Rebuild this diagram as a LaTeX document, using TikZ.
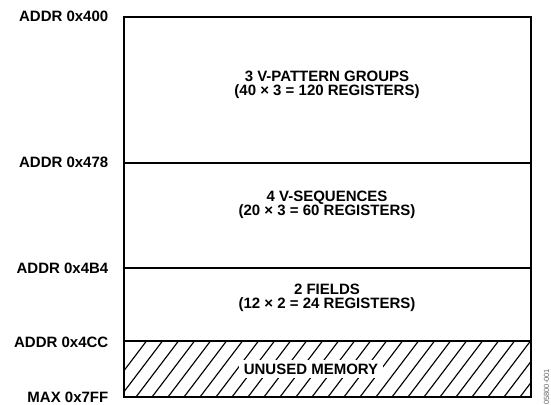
\documentclass[tikz,border=0pt]{standalone}
\usepackage{fontspec}
\setmainfont{Liberation Sans}
\begin{document}
\begin{tikzpicture}[x=1pt,y=-1pt,
  lbl/.style={anchor=east,font=\bfseries\fontsize{15}{14.5}\selectfont,inner sep=0pt},
  ctext/.style={align=center,font=\bfseries\fontsize{15}{14.2}\selectfont,inner sep=0pt},
  frame/.style={line width=1.8pt},
  hatchline/.style={line width=1.15pt}]
\useasboundingbox (0,0) rectangle (551,404);
% hatch
\begin{scope}
\clip (124,341) rectangle (531,397);
\foreach \i in {0,...,30}{
  \draw[hatchline] (104+\i*16,397) -- ++(44,-58);
}
\end{scope}
% frame
\draw[frame] (122.5,17) -- (531,17) -- (531,397) -- (124,397) -- (124,17);
\draw[frame] (122.5,163) -- (531,163);
\draw[frame] (122.5,268) -- (531,268);
\draw[frame] (122.5,341) -- (531,341);
% labels
\node[lbl] (a400) at (108.5,16) {ADDR 0x400};
\node[lbl] (a478) at (108.5,162.5) {ADDR 0x478};
\node[lbl] (a4b4) at (108.5,268) {ADDR 0x4B4};
\node[lbl] (a4cc) at (108.5,342) {ADDR 0x4CC};
\node[lbl] (amax) at (108.5,397) {MAX 0x7FF};
% contents
\node[ctext] (vpat) at (327,85) {3 V-PATTERN GROUPS\\(40 × 3 = 120 REGISTERS)};
\node[ctext] (vseq) at (327,205) {4 V-SEQUENCES\\(20 × 3 = 60 REGISTERS)};
\node[ctext] (fld) at (327,298) {2 FIELDS\\(12 × 2 = 24 REGISTERS)};
\node[ctext,fill=white,inner xsep=5pt,inner ysep=4pt] (unused) at (311,369) {UNUSED MEMORY};
% figure code
\node[rotate=90,anchor=west,text=black!60,font=\fontsize{7.5}{7.5}\selectfont,inner sep=0pt] (code) at (546.5,405) {05800-001};
\end{tikzpicture}
\end{document}
